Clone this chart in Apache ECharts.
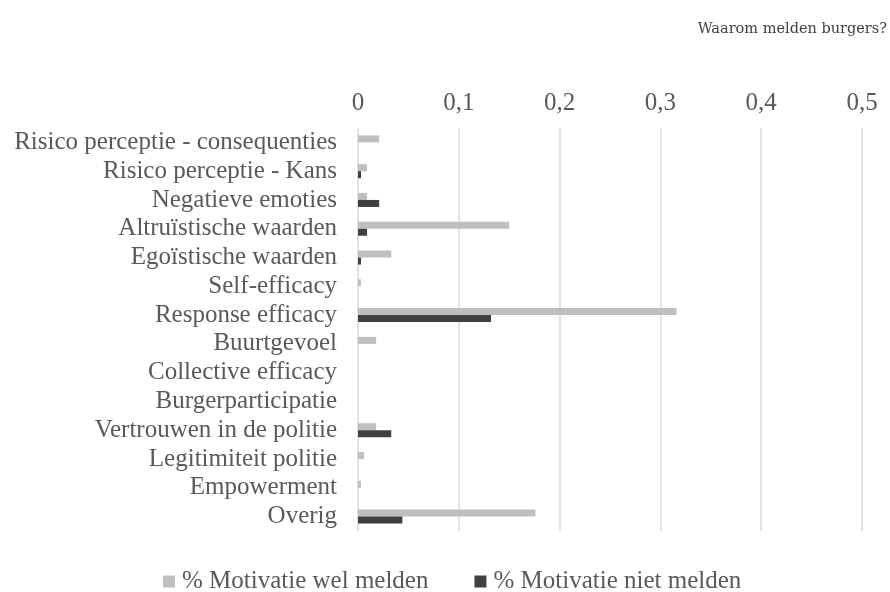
<!DOCTYPE html>
<html>
<head>
<meta charset="utf-8">
<script src="https://cdn.jsdelivr.net/npm/echarts@6/dist/echarts.min.js"></script>
<style>
  html, body { margin: 0; padding: 0; background: #fff; }
  #chart { width: 890px; height: 592px; }
</style>
</head>
<body>
<div id="chart"></div>
<script>
// categories, top to bottom
var categories = [
    'Risico perceptie - consequenties',
    'Risico perceptie - Kans',
    'Negatieve emoties',
    'Altruïstische waarden',
    'Egoïstische waarden',
    'Self-efficacy',
    'Response efficacy',
    'Buurtgevoel',
    'Collective efficacy',
    'Burgerparticipatie',
    'Vertrouwen in de politie',
    'Legitimiteit politie',
    'Empowerment',
    'Overig'
];

var welMelden = [0.021, 0.009, 0.009, 0.150, 0.033, 0.003, 0.316, 0.018, 0, 0, 0.018, 0.006, 0.003, 0.176];
var nietMelden = [0, 0.003, 0.021, 0.009, 0.003, 0, 0.132, 0, 0, 0, 0.033, 0, 0, 0.044];

var seriesNames = ['% Motivatie wel melden', '% Motivatie niet melden'];

var serif = '"Liberation Serif", "Times New Roman", serif';

var myChart = echarts.init(document.getElementById('chart'));

var option = {
    animation: false,
    title: {
        text: 'Waarom melden burgers?',
        right: -2,
        top: 17,
        textStyle: {
            fontFamily: '"DejaVu Serif", serif',
            fontSize: 14.5,
            fontWeight: 'normal',
            color: '#404040'
        }
    },
    legend: {
        top: 564,
        left: 158,
        itemWidth: 12,
        itemHeight: 12,
        itemGap: 46,
        icon: 'rect',
        textStyle: { fontFamily: serif, fontSize: 25, color: '#595959', padding: [0, 0, 0, 2] },
        data: seriesNames
    },
    grid: {
        left: 358,
        right: 28,
        top: 128,
        bottom: 61,
        containLabel: false
    },
    xAxis: {
        type: 'value',
        position: 'top',
        min: 0,
        max: 0.5,
        interval: 0.1,
        axisLine: { show: false },
        axisTick: { show: false },
        splitLine: { lineStyle: { color: '#d9d9d9', width: 1.5 } },
        axisLabel: {
            fontFamily: serif,
            fontSize: 25,
            color: '#595959',
            margin: 12,
            formatter: function (v) {
                return String(Math.round(v * 10) / 10).replace('.', ',');
            }
        }
    },
    yAxis: {
        type: 'category',
        inverse: true,
        data: categories,
        axisLine: { show: false },
        axisTick: { show: false },
        axisLabel: {
            interval: 0,
            fontFamily: serif,
            fontSize: 25,
            color: '#595959',
            margin: 21
        }
    },
    series: [
        {
            name: seriesNames[0],
            type: 'bar',
            data: welMelden,
            barWidth: 7,
            barGap: '0%',
            itemStyle: { color: '#bfbfbf' }
        },
        {
            name: seriesNames[1],
            type: 'bar',
            data: nietMelden,
            barWidth: 7,
            barGap: '0%',
            itemStyle: { color: '#404040' }
        }
    ]
};

myChart.setOption(option);
</script>
</body>
</html>
